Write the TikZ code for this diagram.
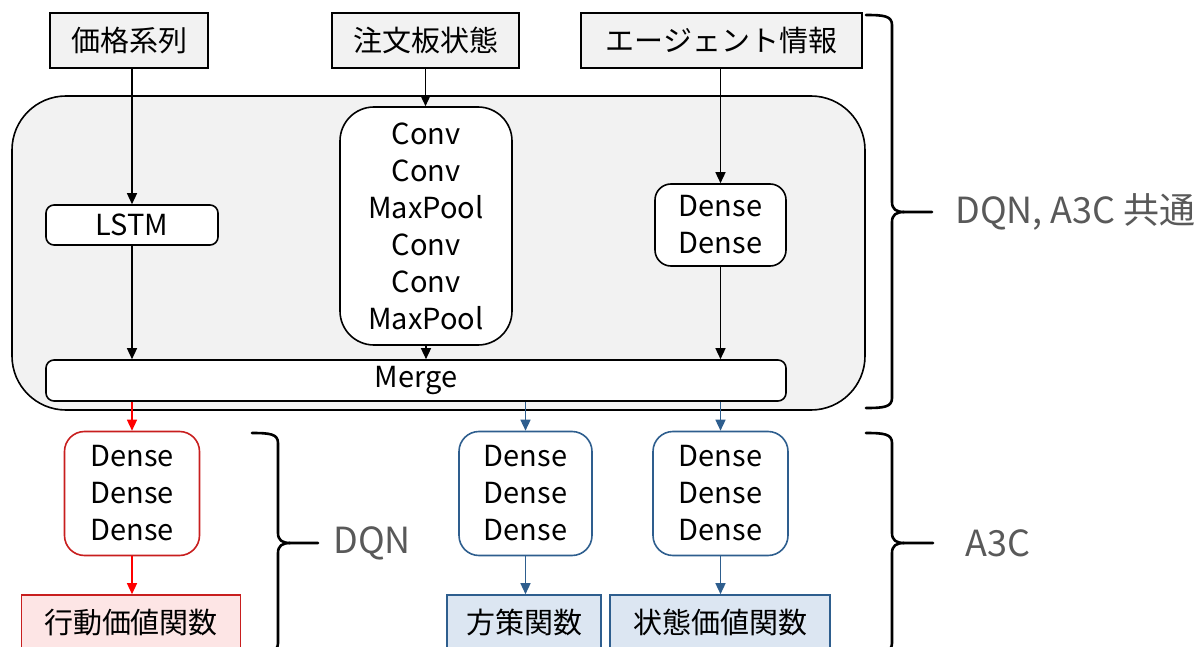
\documentclass[tikz,border=0pt]{standalone}
\usepackage{fontspec}
\setmainfont{Noto Sans CJK JP}
\usetikzlibrary{arrows.meta}
\definecolor{panel}{RGB}{242,242,242}
\definecolor{qline}{RGB}{200,30,30}
\definecolor{qarrow}{RGB}{255,0,0}
\definecolor{qfill}{RGB}{253,229,229}
\definecolor{pline}{RGB}{46,94,142}
\definecolor{pfill}{RGB}{220,230,242}
\definecolor{note}{RGB}{89,89,89}
\begin{document}
\begin{tikzpicture}[x=0.5pt,y=-0.5pt,
  every node/.style={inner sep=0pt, align=center, font=\fontsize{14.5pt}{18.5pt}\selectfont},
  inbox/.style={draw, fill=panel, line width=0.8pt, minimum height=27.5pt},
  outbox/.style={draw, line width=0.8pt, minimum height=27.5pt},
  layer/.style={draw, fill=white, line width=0.8pt},
  flow/.style={line width=0.7pt, -{Triangle[width=5pt,length=5.5pt]}},
  brace/.style={line width=1.3pt, line cap=round, line join=round},
  tag/.style={anchor=west, text=note, font=\fontsize{18pt}{22pt}\selectfont}
]
\useasboundingbox (0,0) rectangle (1200,647);
\clip (0,0) rectangle (1200,647);

% shared feature extractor panel
\node[draw, fill=panel, line width=0.8pt, rounded corners=27pt,
      minimum width=426.5pt, minimum height=157pt] (shared) at (438.5,253) {};

% inputs
\node[inbox, minimum width=79pt]   (price) at (129,40.5)   {価格系列};
\node[inbox, minimum width=93.5pt] (book)  at (425.5,40.5) {注文板状態};
\node[inbox, minimum width=140.5pt](agent) at (721.5,40.5) {エージェント情報};

% shared layers
\node[layer, rounded corners=4pt, minimum width=86pt, minimum height=20pt] (lstm) at (132,225) {LSTM};
\node[layer, rounded corners=17pt, minimum width=86pt, minimum height=119pt] (conv) at (426,226)
  {Conv\\Conv\\MaxPool\\Conv\\Conv\\MaxPool};
\node[layer, rounded corners=8pt, minimum width=65.5pt, minimum height=41pt] (dense) at (720.5,225)
  {Dense\\Dense};
\node[layer, rounded corners=4pt, minimum width=370pt, minimum height=20.5pt] (merge) at (416,380.5) {Merge};

% DQN head
\node[layer, draw=qline, rounded corners=10pt, minimum width=67.5pt, minimum height=62pt] (qnet) at (132,493.5)
  {Dense\\Dense\\Dense};
\node[outbox, draw=qline, fill=qfill, minimum width=109.5pt] (qval) at (131,622.5) {行動価値関数};

% A3C heads
\node[layer, draw=pline, rounded corners=10pt, minimum width=66.5pt, minimum height=62pt] (pnet) at (525.5,493.5)
  {Dense\\Dense\\Dense};
\node[outbox, draw=pline, fill=pfill, minimum width=77pt] (policy) at (524,622.5) {方策関数};
\node[layer, draw=pline, rounded corners=10pt, minimum width=67.5pt, minimum height=62pt] (vnet) at (720.5,493.5)
  {Dense\\Dense\\Dense};
\node[outbox, draw=pline, fill=pfill, minimum width=110pt] (value) at (720,622.5) {状態価値関数};

% data flow
\draw[flow] (price.south -| lstm) -- (lstm.north);
\draw[flow] (book.south) -- (book.south |- conv.north);
\draw[flow] (agent.south -| dense) -- (dense.north);
\draw[flow] (lstm.south) -- (lstm.south |- merge.north);
\draw[flow] (conv.south) -- (conv.south |- merge.north);
\draw[flow] (dense.south) -- (dense.south |- merge.north);
\draw[flow, qarrow] (merge.south -| qnet) -- (qnet.north);
\draw[flow, qarrow] (qnet.south) -- (qnet.south |- qval.north);
\draw[flow, pline] (merge.south -| pnet) -- (pnet.north);
\draw[flow, pline] (pnet.south) -- (pnet.south |- policy.north);
\draw[flow, pline] (merge.south -| vnet) -- (vnet.north);
\draw[flow, pline] (vnet.south) -- (vnet.south |- value.north);

% braces
\coordinate (tipA) at (932,212);
\draw[brace] (866,15) .. controls (884,15) and (892,16) .. (892,25) -- (892,202)
  .. controls (892,209) and (896,212) .. (904,212) -- (tipA);
\draw[brace] (866,408) .. controls (884,408) and (892,407) .. (892,398) -- (892,222)
  .. controls (892,215) and (896,212) .. (904,212);
\node[tag] (tagA) at (955,212) {DQN, A3C 共通};

\coordinate (tipB) at (318,543);
\draw[brace] (252,433) .. controls (270,433) and (278,434) .. (278,443) -- (278,533)
  .. controls (278,540) and (282,543) .. (290,543) -- (tipB);
\draw[brace] (252,653) .. controls (270,653) and (278,652) .. (278,643) -- (278,553)
  .. controls (278,546) and (282,543) .. (290,543);
\node[tag] (tagB) at (333,543) {DQN};

\coordinate (tipC) at (933,543);
\draw[brace] (866,433) .. controls (884,433) and (892,434) .. (892,443) -- (892,533)
  .. controls (892,540) and (896,543) .. (904,543) -- (tipC);
\draw[brace] (866,653) .. controls (884,653) and (892,652) .. (892,643) -- (892,553)
  .. controls (892,546) and (896,543) .. (904,543);
\node[tag] (tagC) at (965,543) {A3C};
\end{tikzpicture}
\end{document}
